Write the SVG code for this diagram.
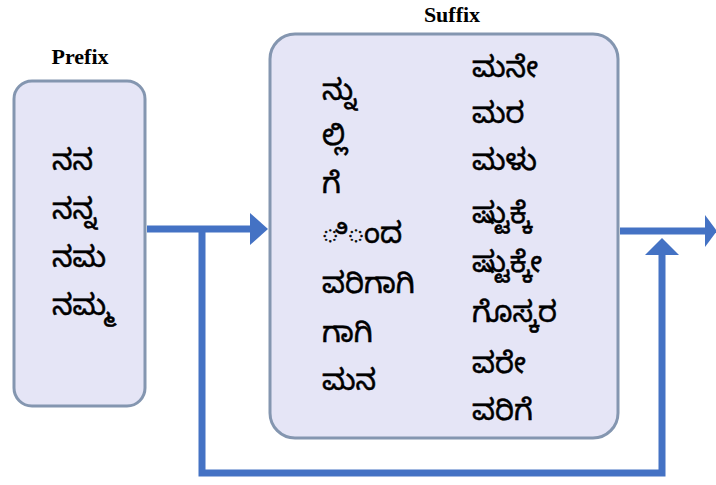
<svg xmlns="http://www.w3.org/2000/svg" width="716" height="485" viewBox="0 0 716 485">
<style>
.box{fill:#e5e5f6;stroke:#8496b0;stroke-width:3}
.title{font-family:"Liberation Serif",serif;font-weight:bold;font-size:22px;fill:#000;text-anchor:middle}
.kn{font-family:"Noto Sans Kannada","Noto Sans",sans-serif;font-size:29px;fill:#000;stroke:#000;stroke-width:0.5}
.ln{fill:none;stroke:#4472c4;stroke-width:7}
.ah{fill:#4472c4}
</style>
<rect width="716" height="485" fill="#fff"/>
<g id="prefix">
<rect class="box" x="14" y="81" width="131" height="325" rx="18"/>
<text class="title" x="80" y="64">Prefix</text>
<text class="kn" x="52" y="170">ನನ</text>
<text class="kn" x="52" y="219">ನನ್ನ</text>
<text class="kn" x="52" y="267">ನಮ</text>
<text class="kn" x="52" y="315">ನಮ್ಮ</text>
</g>
<g id="suffix">
<rect class="box" x="270" y="34" width="348" height="404" rx="25"/>
<text class="title" x="452" y="22">Suffix</text>
<text class="kn" x="322" y="100">ನ್ನು</text>
<text class="kn" x="322" y="145">ಲ್ಲಿ</text>
<text class="kn" x="322" y="193">ಗೆ</text>
<text class="kn" x="322" y="243">◌ಿ◌ಂದ</text>
<text class="kn" x="322" y="293">ವರಿಗಾಗಿ</text>
<text class="kn" x="322" y="342">ಗಾಗಿ</text>
<text class="kn" x="322" y="390">ಮನ</text>
<text class="kn" x="472" y="77">ಮನೇ</text>
<text class="kn" x="472" y="123">ಮರ</text>
<text class="kn" x="472" y="170">ಮಳು</text>
<text class="kn" x="472" y="223">ಷ್ಟುಕ್ಕೆ</text>
<text class="kn" x="472" y="272">ಷ್ಟುಕ್ಕೇ</text>
<text class="kn" x="472" y="322">ಗೊಸ್ಕರ</text>
<text class="kn" x="472" y="373">ವರೇ</text>
<text class="kn" x="472" y="420">ವರಿಗೆ</text>
</g>
<g id="connectors">
<line class="ln" x1="147" y1="229" x2="252" y2="229"/>
<polygon class="ah" points="250,213 268,229 250,245"/>
<polyline class="ln" points="202,229 202,473 662,473 662,253"/>
<polygon class="ah" points="645,255 662,238 679,255"/>
<line class="ln" x1="620" y1="231" x2="707" y2="231"/>
<polygon class="ah" points="705,215 717,231 705,247"/>
</g>
</svg>
